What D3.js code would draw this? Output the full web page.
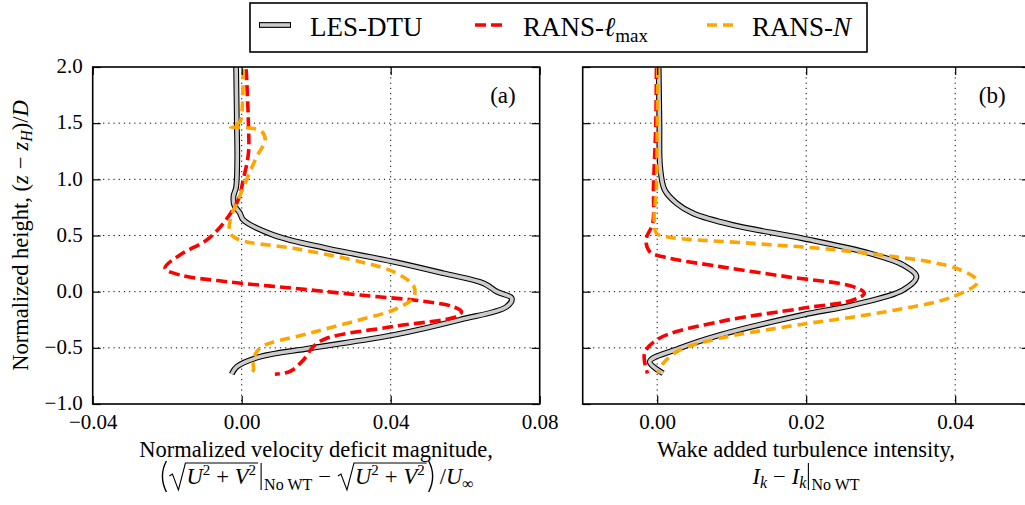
<!DOCTYPE html>
<html lang='en'>
<meta charset='utf-8'>
<style>
  body{margin:0;background:#fff;}
  svg{display:block;}
  text{font-family:'Liberation Serif','Times New Roman',serif;fill:#000;white-space:pre;}
  .grid line{stroke:#000;stroke-width:1;stroke-dasharray:1.2,4;}
</style>
<body>
<svg width='1025' height='505'></svg>
<script src='https://d3js.org/d3.v7.min.js'></script>
<script>
// ---- data: [value, normalized height] ----
const yTicks = [-1.0, -0.5, 0.0, 0.5, 1.0, 1.5, 2.0]
const xTicksA = [-0.04, 0.00, 0.04, 0.08]
const xTicksB = [0.00, 0.02, 0.04]

// (a) velocity deficit
const lesA = [[-0.0015,2.0],[-0.0013,1.5],[-0.0012,1.17],[-0.0015,0.93],[-0.0022,0.85],[-0.002,0.77],
  [-0.0005,0.70],[0.0004,0.64],[0.0085,0.505],[0.0228,0.386],[0.0407,0.267],[0.0541,0.164],[0.0649,0.075],
  [0.0685,0.0],[0.0725,-0.059],[0.0711,-0.134],[0.0586,-0.25],[0.0407,-0.386],[0.0183,-0.504],[0.0049,-0.58],
  [-0.0013,-0.668],[-0.0027,-0.733]]
const lmaxA = [[0.0012,1.98],[0.0018,1.5],[0.0018,1.23],[0.0004,0.995],[-0.0009,0.82],[-0.0049,0.61],
  [-0.0094,0.46],[-0.0166,0.327],[-0.0206,0.208],[-0.0166,0.149],[-0.004,0.089],[0.0139,0.03],[0.0318,-0.03],
  [0.0497,-0.089],[0.0568,-0.134],[0.059,-0.178],[0.0577,-0.22],[0.0407,-0.31],[0.0228,-0.415],[0.0192,-0.49],
  [0.0165,-0.61],[0.013,-0.71],[0.0089,-0.735]]
const nA = [[0.0004,1.98],[0.0002,1.68],[-0.0005,1.51],[-0.0031,1.47],[0.0027,1.455],[0.0054,1.425],
  [0.0063,1.35],[0.004,1.20],[0.0013,0.995],[-0.0013,0.79],[-0.0031,0.64],[-0.0031,0.52],[-0.0005,0.46],
  [0.0139,0.386],[0.0318,0.267],[0.0407,0.178],[0.046,0.06],[0.0465,0.0],[0.046,-0.06],[0.0407,-0.163],
  [0.0318,-0.25],[0.0183,-0.37],[0.005,-0.50],[0.0031,-0.61],[0.0031,-0.70],[0.0018,-0.74]]

// (b) added turbulence intensity
const lesB = [[0.0002,1.99],[0.0003,1.5],[0.0004,1.11],[0.001,0.906],[0.0026,0.787],[0.0048,0.698],
  [0.0101,0.594],[0.0195,0.475],[0.0285,0.342],[0.033,0.238],[0.0348,0.134],[0.033,0.015],[0.0263,-0.118],
  [0.0195,-0.207],[0.0084,-0.386],[0.003,-0.504],[-0.001,-0.623],[0.0008,-0.727]]
const lmaxB = [[-0.0001,1.99],[-0.0002,1.47],[-0.0005,0.935],[-0.0006,0.61],[-0.0015,0.46],[-0.001,0.356],
  [0.0008,0.31],[0.0084,0.223],[0.0173,0.134],[0.0263,0.045],[0.0278,-0.014],[0.0263,-0.074],[0.0195,-0.148],
  [0.0084,-0.267],[0.0003,-0.415],[-0.0017,-0.549],[-0.0013,-0.727]]
const nB = [[0.0001,1.99],[0.0,1.47],[-0.0001,0.935],[-0.0004,0.64],[-0.0001,0.52],[0.0017,0.484],
  [0.0128,0.43],[0.0263,0.356],[0.0401,0.208],[0.043,0.089],[0.0397,-0.045],[0.0307,-0.178],[0.0173,-0.312],
  [0.0084,-0.415],[0.003,-0.52],[0.0008,-0.638],[0.0001,-0.727]]

const svg = d3.select('svg')
const plotTop = 67, plotBottom = 404
const y = d3.scaleLinear([-1, 2], [plotBottom, plotTop])
const xa = d3.scaleLinear([-0.04, 0.08], [92.7, 539.7])
const xb = d3.scaleLinear([-0.01, 0.05], [582.7, 1029.7])

const RED = '#ff0000', ORANGE = '#ffa500'

function panel(id, x, xTicks, fmtX, showY, series, tag) {
  const [x0, x1] = x.range()
  const g = svg.append('g')
  g.append('clipPath').attr('id', 'clip-' + id)
    .append('rect').attr('x', x0).attr('y', plotTop).attr('width', x1 - x0).attr('height', plotBottom - plotTop)

  // grid
  const grid = g.append('g').attr('class', 'grid')
  grid.selectAll('.gx').data(xTicks.filter(t => x(t) > x0 + 1 && x(t) < x1 - 1)).join('line')
    .attr('x1', d => x(d)).attr('x2', d => x(d)).attr('y1', plotTop).attr('y2', plotBottom)
  grid.selectAll('.gy').data(yTicks.filter(t => t > -1 && t < 2)).join('line')
    .attr('x1', x0).attr('x2', x1).attr('y1', d => y(d)).attr('y2', d => y(d))

  // curves
  const line = d3.line().x(d => x(d[0])).y(d => y(d[1])).curve(d3.curveCatmullRom.alpha(0.5))
  const cg = g.append('g').attr('clip-path', `url(#clip-${id})`).attr('fill', 'none')
  cg.append('path').attr('d', line(series[0])).attr('stroke', '#000').attr('stroke-width', 5.8)
    .attr('stroke-linejoin', 'round')
  cg.append('path').attr('d', line(series[0])).attr('stroke', '#cccccc').attr('stroke-width', 3.6)
    .attr('stroke-linejoin', 'round')
  cg.append('path').attr('d', line(series[1])).attr('stroke', RED).attr('stroke-width', 3.6)
    .attr('stroke-dasharray', '11,5')
  cg.append('path').attr('d', line(series[2])).attr('stroke', ORANGE).attr('stroke-width', 3.6)
    .attr('stroke-dasharray', '10,6')

  // axes: ticks inward on all four sides
  const axB = g.append('g').attr('transform', `translate(0,${plotBottom})`)
    .call(d3.axisBottom(x).tickValues(xTicks).tickFormat(fmtX).tickSizeInner(-8).tickSizeOuter(0).tickPadding(10))
  const axT = g.append('g').attr('transform', `translate(0,${plotTop})`)
    .call(d3.axisTop(x).tickValues(xTicks).tickFormat('').tickSizeInner(-8).tickSizeOuter(0))
  const axL = g.append('g').attr('transform', `translate(${x0},0)`)
    .call(d3.axisLeft(y).tickValues(yTicks).tickFormat(showY ? d3.format('.1f') : '').tickSizeInner(-8).tickSizeOuter(0).tickPadding(10))
  const axR = g.append('g').attr('transform', `translate(${x1},0)`)
    .call(d3.axisRight(y).tickValues(yTicks).tickFormat('').tickSizeInner(-8).tickSizeOuter(0))
  ;[axB, axT, axL, axR].forEach(a => {
    a.select('.domain').remove()
    a.selectAll('line').attr('stroke', '#000').attr('stroke-width', 1.2)
    a.selectAll('text').attr('font-size', 21).attr('font-family', "'Liberation Serif',serif").attr('fill', '#000')
  })
  axL.selectAll('text').attr('dy', '0.27em')

  g.append('rect').attr('x', x0).attr('y', plotTop).attr('width', x1 - x0).attr('height', plotBottom - plotTop)
    .attr('fill', 'none').attr('stroke', '#000').attr('stroke-width', 1.6)

  g.append('text').attr('x', x1 - 24).attr('y', 103).attr('text-anchor', 'end')
    .attr('font-size', 23).text(tag)
}

panel('a', xa, xTicksA, d3.format('.2f'), true, [lesA, lmaxA, nA], '(a)')
panel('b', xb, xTicksB, d3.format('.2f'), false, [lesB, lmaxB, nB], '(b)')

// ---- small math typesetter: pieces laid out left to right ----
const FS = 22.5
function mathRow(parent, items) {
  const g = parent.append('g')
  let x = 0
  const put = list => list.forEach(it => {
    if (it.rad) {
      const x0 = x
      x += 18
      put(it.rad)
      const x1 = x + 2
      g.append('path')
        .attr('d', `M${x0 + 1},${-8} L${x0 + 4},${-10} L${x0 + 10},${6} L${x0 + 17},${-21} L${x1},${-21}`)
        .attr('fill', 'none').attr('stroke', '#000').attr('stroke-width', 1.1)
      x = x1 + 1
    } else if (it.paren) {
      // tall delimiters drawn as strokes
      const open = it.paren === '('
      const a = open ? x + 8 : x + 1, c = open ? x : x + 9
      g.append('path').attr('d', `M${a},${-23} Q${c},${-8} ${a},${8}`)
        .attr('fill', 'none').attr('stroke', '#000').attr('stroke-width', 1.4)
      x += 10
    } else if (it.bar) {
      g.append('line').attr('x1', x + 2).attr('x2', x + 2).attr('y1', -21).attr('y2', 6)
        .attr('stroke', '#000').attr('stroke-width', 1.1)
      x += 5
    } else if (it.gap) {
      x += it.gap
    } else {
      const t = g.append('text').attr('x', x).attr('y', it.dy || 0)
        .attr('font-size', it.size || FS).attr('font-style', it.italic ? 'italic' : 'normal').text(it.t)
      x += t.node().getComputedTextLength()
    }
  })
  put(items)
  return {g, width: x}
}
function placeRow(items, cx, base, rotate) {
  const holder = svg.append('g')
  const r = mathRow(holder, items)
  r.g.attr('transform', `translate(${-r.width / 2},0)`)
  holder.attr('transform', `translate(${cx},${base})` + (rotate ? ' rotate(-90)' : ''))
}
const op = s => [{gap: 6}, {t: s}, {gap: 6}]

// x labels
placeRow([{t: 'Normalized velocity deficit magnitude,'}], 316, 457)
const uv = [{t: 'U', italic: true}, {t: '2', size: 15, dy: -9}, ...op('+'), {t: 'V', italic: true}, {t: '2', size: 15, dy: -9}]
placeRow([{paren: '('}, {rad: uv}, {bar: true}, {t: 'No WT', size: 16, dy: 6}, ...op('−'),
  {rad: uv}, {paren: ')'}, {gap: 2}, {t: '/'}, {t: 'U', italic: true}, {t: '∞', size: 16, dy: 5}], 316, 484)

placeRow([{t: 'Wake added turbulence intensity,'}], 806, 457)
placeRow([{t: 'I', italic: true}, {t: 'k', italic: true, size: 16, dy: 4}, ...op('−'), {t: 'I', italic: true},
  {t: 'k', italic: true, size: 16, dy: 4}, {bar: true}, {t: 'No WT', size: 16, dy: 6}], 806, 484)

// y label
placeRow([{t: 'Normalized height, '}, {t: '('}, {t: 'z', italic: true}, ...op('−'), {t: 'z', italic: true},
  {t: 'H', italic: true, size: 16, dy: 4}, {t: ')'}, {t: '/'}, {t: 'D', italic: true}], 28, 235.5, true)

// ---- legend ----
const lg = svg.append('g')
lg.append('rect').attr('x', 250).attr('y', 3).attr('width', 617).attr('height', 49)
  .attr('fill', '#fff').attr('stroke', '#000').attr('stroke-width', 1.6)
lg.append('line').attr('x1', 259).attr('x2', 291).attr('y1', 25).attr('y2', 25).attr('stroke', '#000').attr('stroke-width', 5.8)
lg.append('line').attr('x1', 260).attr('x2', 290).attr('y1', 25).attr('y2', 25).attr('stroke', '#cccccc').attr('stroke-width', 3.6)
lg.append('text').attr('x', 310).attr('y', 36).attr('font-size', 27).text('LES-DTU')
lg.append('line').attr('x1', 475).attr('x2', 503).attr('y1', 25).attr('y2', 25).attr('stroke', RED)
  .attr('stroke-width', 3.6).attr('stroke-dasharray', '11,5')
const t2 = lg.append('text').attr('x', 523).attr('y', 36).attr('font-size', 27)
t2.append('tspan').text('RANS-')
t2.append('tspan').attr('font-style', 'italic').text('ℓ')
t2.append('tspan').attr('font-size', 19).attr('dy', 6).text('max')
lg.append('line').attr('x1', 707).attr('x2', 735).attr('y1', 25).attr('y2', 25).attr('stroke', ORANGE)
  .attr('stroke-width', 3.6).attr('stroke-dasharray', '10,6')
const t3 = lg.append('text').attr('x', 752).attr('y', 36).attr('font-size', 27)
t3.append('tspan').text('RANS-')
t3.append('tspan').attr('font-style', 'italic').text('N')
</script>
</body>
</html>
